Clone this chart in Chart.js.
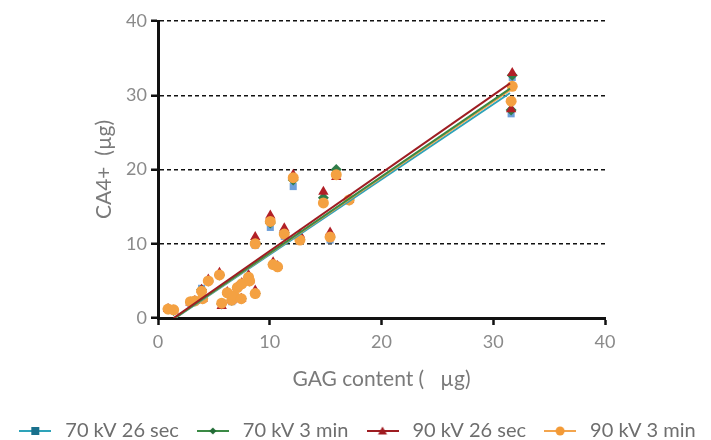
<!DOCTYPE html>
<html>
<head>
<meta charset="utf-8">
<script src="https://cdn.jsdelivr.net/npm/chart.js@4/dist/chart.umd.min.js"></script>
<style>
  html, body { margin: 0; padding: 0; background: #ffffff; }
  #wrap { width: 711px; height: 440px; }
</style>
</head>
<body>
<div id="wrap"><canvas id="chart" width="711" height="440"></canvas></div>
<script>
// GAG content (µg) of each sample
const gagContent = [0.9, 1.4, 2.9, 3.3, 3.9, 4.0, 4.5, 5.5, 5.7, 6.2, 6.6, 6.8, 7.1, 7.5, 7.45, 8.1, 8.2, 8.7, 8.7, 10.05, 10.3, 10.7, 11.3, 12.1, 12.7, 14.8, 15.4, 15.95, 17.1, 31.7, 31.6];

// CA4+ uptake (µg) per scan protocol
const ca70kV26s = [1.2, 1.0, 2.0, 2.2, 4.0, 2.6, 5.0, 5.8, 1.8, 3.4, 2.2, 3.0, 4.1, 4.6, 2.5, 5.5, 5.0, 3.3, 9.8, 12.2, 7.2, 6.9, 11.0, 17.7, 10.5, 15.6, 10.5, 19.3, 15.8, 32.4, 27.5];
const ca70kV3m  = [1.2, 1.0, 2.1, 2.3, 3.8, 2.6, 5.0, 5.8, 1.9, 3.4, 2.4, 3.0, 4.1, 4.6, 2.6, 5.5, 5.0, 3.3, 10.2, 12.8, 7.2, 6.9, 11.5, 18.6, 10.6, 16.2, 10.9, 20.0, 15.9, 32.7, 28.0];
const ca90kV26s = [1.2, 1.0, 2.1, 2.3, 3.8, 2.6, 5.2, 6.1, 1.6, 3.5, 2.4, 3.1, 4.2, 4.7, 2.6, 5.8, 5.1, 3.7, 10.9, 13.8, 7.5, 7.0, 12.1, 19.3, 11.2, 17.0, 11.5, 19.0, 15.9, 33.0, 28.1];
const ca90kV3m  = [1.2, 1.1, 2.2, 2.3, 3.6, 2.6, 5.0, 5.8, 2.0, 3.4, 2.4, 3.0, 4.1, 4.6, 2.6, 5.5, 5.0, 3.3, 10.0, 13.0, 7.2, 6.9, 11.3, 18.9, 10.5, 15.5, 10.9, 19.3, 15.9, 31.2, 29.2];

// Linear fits: where each line meets y = 0, and its value at the right end
const fitStartX = [1.55, 1.5, 1.4, 1.5];
const fitEndX = 31.5;
const fitEndY = [30.3, 30.9, 31.6, 30.7];

const seriesNames = ['70 kV 26 sec', '70 kV 3 min', '90 kV 26 sec', '90 kV 3 min'];
const axisTicks = [0, 10, 20, 30, 40];

const FONT = 'Lato, "Open Sans", "DejaVu Sans", sans-serif';
const lineColors   = ['#2ea3b9', '#3b8a45', '#9e1d22', '#f3a54e'];
const markerColors = ['#6d9fd9', '#2f7c48', '#b11f27', '#f4a142'];
const legendMarkerColors = ['#19708c', '#216b36', '#a01b21', '#f39a36'];
const markerStyles = ['rect', 'rectRot', 'triangle', 'circle'];
const markerSizes  = [5, 5.5, 6, 5.5];

const toPoints = ys => ys.map((y, i) => ({ x: gagContent[i], y }));
const fitLine = k => [{ x: fitStartX[k], y: 0 }, { x: fitEndX, y: fitEndY[k] }];

// Small line-with-marker swatch used in the legend
function legendIcon(k) {
  const c = document.createElement('canvas');
  c.width = 32; c.height = 12;
  const g = c.getContext('2d');
  g.strokeStyle = lineColors[k];
  g.lineWidth = 2;
  g.beginPath(); g.moveTo(0, 6); g.lineTo(32, 6); g.stroke();
  g.fillStyle = legendMarkerColors[k];
  g.beginPath();
  if (k === 0) { g.rect(12, 2, 8, 8); }
  else if (k === 1) { g.moveTo(16, 2.5); g.lineTo(19.5, 6); g.lineTo(16, 9.5); g.lineTo(12.5, 6); g.closePath(); }
  else if (k === 2) { g.moveTo(16, 1.5); g.lineTo(20.5, 9.5); g.lineTo(11.5, 9.5); g.closePath(); }
  else { g.arc(16, 6, 4.5, 0, Math.PI * 2); }
  g.fill();
  return c;
}
const legendIcons = [0, 1, 2, 3].map(legendIcon);

const seriesValues = [ca70kV26s, ca70kV3m, ca90kV26s, ca90kV3m];

const datasets = [];
// regression lines (drawn on top)
[2, 1, 3, 0].forEach((k, n) => {
  datasets.push({
    label: seriesNames[k] + ' fit',
    data: fitLine(k),
    showLine: true,
    borderColor: lineColors[k],
    borderWidth: 2,
    pointRadius: 0,
    fill: false,
    order: n
  });
});
// measured points, orange on top down to blue
[3, 2, 1, 0].forEach((k, n) => {
  datasets.push({
    label: seriesNames[k],
    data: toPoints(seriesValues[k]),
    pointStyle: markerStyles[k],
    pointRadius: markerSizes[k],
    backgroundColor: markerColors[k],
    borderColor: markerColors[k],
    borderWidth: 0,
    order: 10 + n
  });
});

new Chart(document.getElementById('chart'), {
  type: 'scatter',
  data: { datasets },
  options: {
    responsive: false,
    animation: false,
    layout: { padding: { left: 0, right: 0, top: 21, bottom: -11 } },
    plugins: {
      tooltip: { enabled: false },
      legend: {
        position: 'bottom',
        labels: {
          usePointStyle: true,
          pointStyleWidth: 40,
          padding: 14,
          color: '#6e6e6e',
          font: { family: FONT, size: 20 },
          generateLabels: () => seriesNames.map((name, k) => ({
            text: name,
            pointStyle: legendIcons[k],
            fillStyle: legendMarkerColors[k],
            strokeStyle: lineColors[k],
            lineWidth: 0,
            hidden: false,
            fontColor: '#6e6e6e'
          }))
        }
      }
    },
    scales: {
      x: {
        type: 'linear',
        min: 0, max: 40,
        afterBuildTicks: s => { s.ticks = axisTicks.map(v => ({ value: v })); },
        afterFit: s => { s.height = 89; },
        grid: { drawOnChartArea: false, drawTicks: true, tickLength: 7, tickColor: '#111', tickWidth: 2.5 },
        border: { display: true, color: '#111', width: 3 },
        ticks: { color: '#8a8a8a', padding: 6, font: { family: FONT, size: 18 } },
        title: { display: true, text: 'GAG content (   µg)', color: '#7a7a7a', padding: { top: 0, bottom: 15 }, font: { family: FONT, size: 21 } }
      },
      y: {
        type: 'linear',
        min: 0, max: 40,
        afterBuildTicks: s => { s.ticks = axisTicks.map(v => ({ value: v })); },
        afterFit: s => { s.width = 158; },
        grid: {
          color: c => (c.tick && c.tick.value === 0) ? 'rgba(0,0,0,0)' : '#111',
          lineWidth: 1.5,
          drawTicks: true, tickLength: 7, tickColor: '#111', tickWidth: 2.5
        },
        border: { display: true, color: '#111', width: 3, dash: [4, 3] },
        ticks: { color: '#8a8a8a', padding: 4, font: { family: FONT, size: 18 } },
        title: { display: true, text: 'CA4+  (µg)', color: '#7a7a7a', padding: { top: 92, bottom: 0 }, font: { family: FONT, size: 21 } }
      },
      yRight: {
        type: 'linear',
        position: 'right',
        display: true,
        afterFit: s => { s.width = 106; },
        grid: { display: false, drawTicks: false },
        border: { display: false },
        ticks: { display: false }
      }
    }
  }
});
</script>
</body>
</html>
